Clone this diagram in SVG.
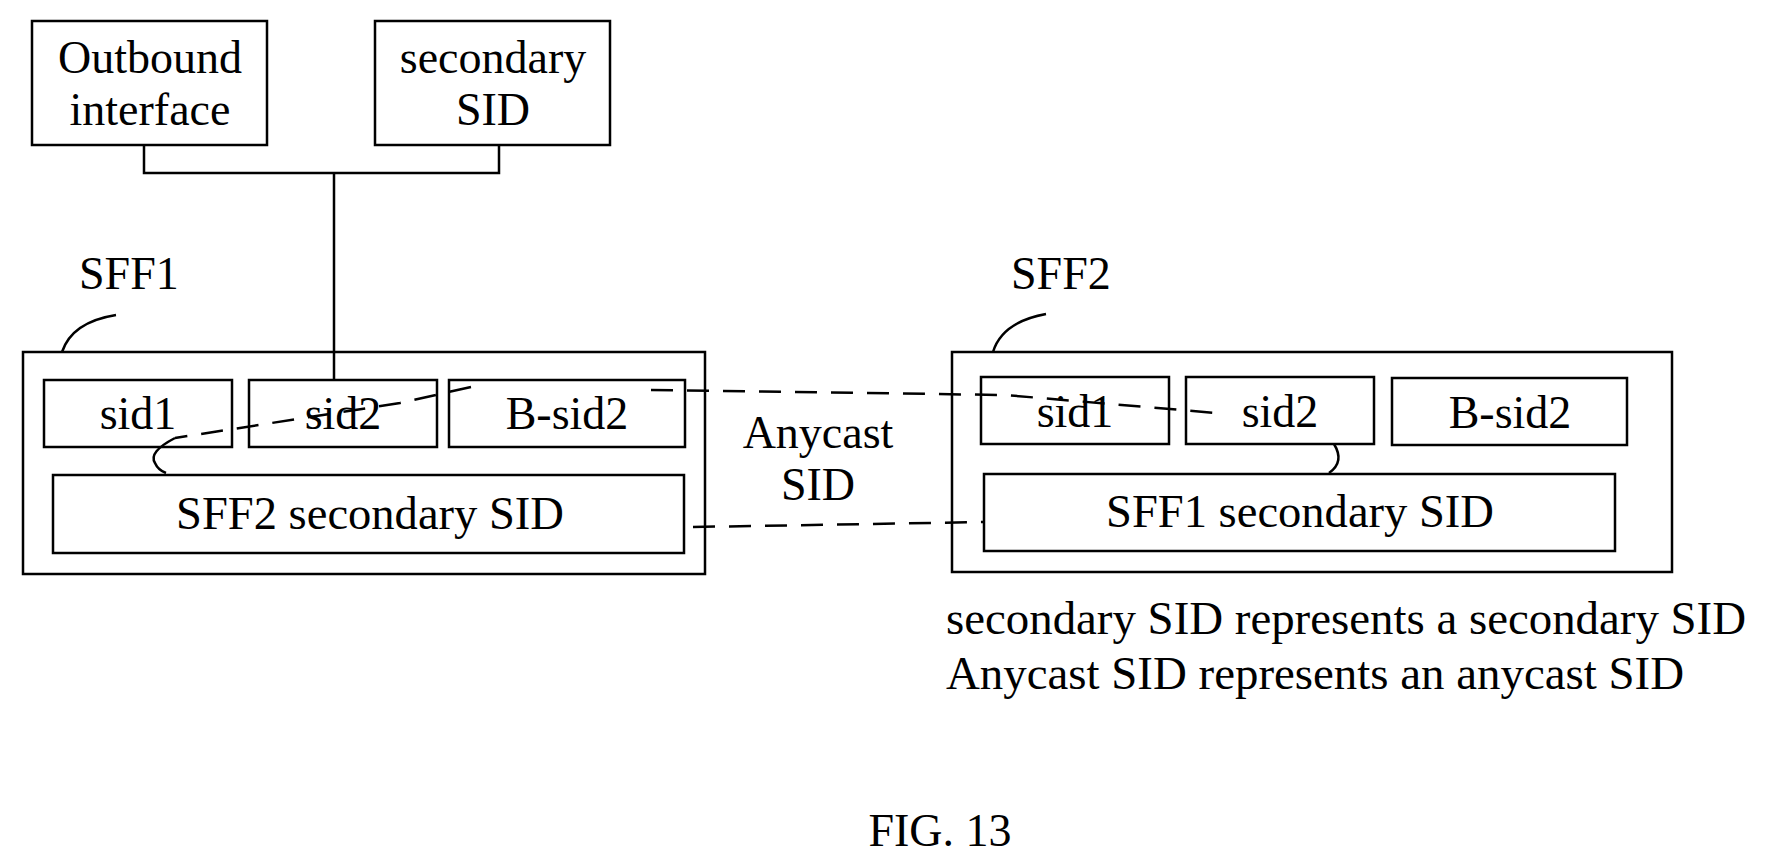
<svg xmlns="http://www.w3.org/2000/svg" width="1767" height="865" viewBox="0 0 1767 865">
<style>
rect{fill:#fff;stroke:#000;stroke-width:2.5}
text{font-family:"Liberation Serif","Times New Roman",serif;font-size:46px;fill:#000;text-anchor:middle}
.l{text-anchor:start}
.s{fill:none;stroke:#000;stroke-width:2.5}
.d{fill:none;stroke:#000;stroke-width:2.5;stroke-dasharray:22 14}
</style>
<rect width="1767" height="865" style="stroke:none"/>
<g id="outbound"><rect x="32" y="21" width="235" height="124"/><text x="150" y="73">Outbound</text><text x="150" y="125">interface</text></g>
<g id="secondary"><rect x="375" y="21" width="235" height="124"/><text x="493" y="73">secondary</text><text x="493" y="125">SID</text></g>
<g id="sff1"><text class="l" x="79" y="289">SFF1</text><rect x="23" y="352" width="682" height="222"/></g>
<g id="sff1-sid1"><rect x="44" y="380" width="188" height="67"/><text x="138" y="429">sid1</text></g>
<g id="sff1-sid2"><rect x="249" y="380" width="188" height="67"/><text x="343" y="429">sid2</text></g>
<g id="sff1-bsid2"><rect x="449" y="380" width="236" height="67"/><text x="567" y="429">B-sid2</text></g>
<g id="sff1-sec"><rect x="53" y="475" width="631" height="78"/><text x="370" y="529" textLength="388" lengthAdjust="spacingAndGlyphs">SFF2 secondary SID</text></g>
<g id="sff2"><text class="l" x="1011" y="289">SFF2</text><rect x="952" y="352" width="720" height="220"/></g>
<g id="sff2-sid1"><rect x="981" y="377" width="188" height="67"/><text x="1075" y="427">sid1</text></g>
<g id="sff2-sid2"><rect x="1186" y="377" width="188" height="67"/><text x="1280" y="427">sid2</text></g>
<g id="sff2-bsid2"><rect x="1392" y="378" width="235" height="67"/><text x="1510" y="428">B-sid2</text></g>
<g id="sff2-sec"><rect x="984" y="474" width="631" height="77"/><text x="1300" y="527" textLength="388" lengthAdjust="spacingAndGlyphs">SFF1 secondary SID</text></g>
<g id="anycast"><text x="818" y="448">Anycast</text><text x="818" y="500">SID</text></g>
<g id="legend"><text class="l" x="946" y="634" font-size="42" textLength="800" lengthAdjust="spacingAndGlyphs">secondary SID represents a secondary SID</text><text class="l" x="946" y="689" font-size="42" textLength="738" lengthAdjust="spacingAndGlyphs">Anycast SID represents an anycast SID</text></g>
<g id="fig"><text x="940" y="846" font-size="54">FIG. 13</text></g>
<g id="connectors">
<path class="s" d="M144 145V173H499V145M334 173V380"/>
<path class="s" d="M116 315Q72 322 62 352"/>
<path class="s" d="M1046 314Q1002 322 993 352"/>
<path class="d" d="M651 390L1005 395L1216 413"/>
<path class="d" d="M693 527L984 522"/>
<path class="d" d="M471 387L400 403L175 438"/>
<path class="s" d="M175 438Q148 452 155 463Q158 470 166 473"/>
<path class="s" d="M1334 444Q1345 462 1329 473"/>
</g>
</svg>
